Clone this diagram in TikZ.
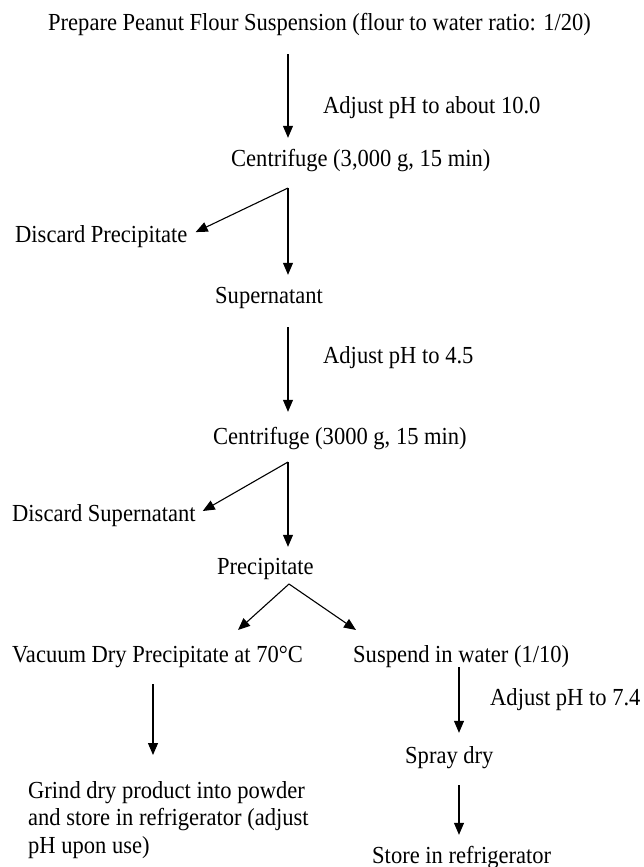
\documentclass[tikz,border=0pt]{standalone}
\usepackage{fontspec}
\setmainfont{Liberation Serif}[FakeStretch=0.92]
\usetikzlibrary{arrows.meta}
\tikzset{
  stage/.style={anchor=base west,inner sep=0pt,text height=17pt,text depth=5pt},
  flow/.style={-{Triangle[length=12pt,width=10pt]},line width=1.1pt},
}

\begin{document}
\begin{tikzpicture}[x=1pt,y=-1pt,font=\fontsize{24.5}{27.5}\selectfont]
    \useasboundingbox (0,0) rectangle (643,867);
    % steps and their notes
    \node[stage] (prep)  at (48,31)   {Prepare Peanut Flour Suspension (flour to water ratio: 1/20)};
    \node[stage] (adj1)  at (323,113) {Adjust pH to about 10.0};
    \node[stage] (cf1)   at (231,166) {Centrifuge (3,000 g, 15 min)};
    \node[stage] (dp)    at (15,242)  {Discard Precipitate};
    \node[stage] (sup)   at (215,303) {Supernatant};
    \node[stage] (adj2)  at (323,363) {Adjust pH to 4.5};
    \node[stage] (cf2)   at (213,444) {Centrifuge (3000 g, 15 min)};
    \node[stage] (ds)    at (12,521)  {Discard Supernatant};
    \node[stage] (prec)  at (217,574) {Precipitate};
    \node[stage] (vac)   at (12,662)  {Vacuum Dry Precipitate at 70°C};
    \node[stage] (susp)  at (353,662) {Suspend in water (1/10)};
    \node[stage] (adj3)  at (490,705) {Adjust pH to 7.4};
    \node[stage] (spray) at (405,763) {Spray dry};
    \node[stage] (store) at (372,863) {Store in refrigerator};
    \node[anchor=north west,inner sep=0pt,align=left] (grind) at (28,781)
        {Grind dry product into powder\\and store in refrigerator (adjust\\pH upon use)};
    % axes and branch points
    \coordinate (ax) at (288,0);
    \coordinate (lx) at (153,0);
    \coordinate (rx) at (459,0);
    \coordinate (j1) at (288,188);
    \coordinate (j2) at (288,462);
    \coordinate (j3) at (289,584);
    \coordinate (tv) at (238,630);
    \coordinate (ts) at (356,630);
    % arrows
    \draw[flow,shorten <=18pt,shorten >=11pt] (prep.south -| ax) -- (cf1.north -| ax);
    \draw[flow,shorten >=9pt]  (j1) -- (dp.east);
    \draw[flow,shorten >=11pt] (j1) -- (sup.north -| j1);
    \draw[flow,shorten <=19pt,shorten >=15pt] (sup.south -| ax) -- (cf2.north -| ax);
    \draw[flow,shorten >=8pt]  (j2) -- (ds.east);
    \draw[flow,shorten >=10pt] (j2) -- (prec.north -| j2);
    \draw[flow] (j3) -- (tv);
    \draw[flow] (j3) -- (ts);
    \draw[flow,shorten <=17pt,shorten >=26pt] (vac.south -| lx) -- (grind.north -| lx);
    \draw[flow,shorten >=13pt] (susp.south -| rx) -- (spray.north -| rx);
    \draw[flow,shorten <=17pt,shorten >=11pt] (spray.south -| rx) -- (store.north -| rx);
\end{tikzpicture}
\end{document}
